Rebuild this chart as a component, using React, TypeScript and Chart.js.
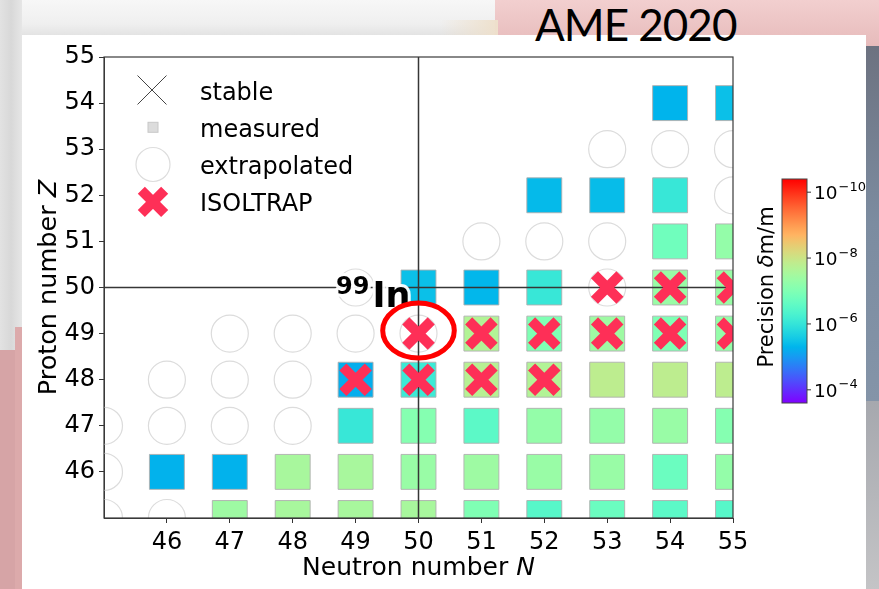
import React, { useEffect, useRef } from 'react';
import { Chart, registerables } from 'chart.js';

Chart.register(...registerables);

// ---------------- data ----------------
const xTickValues = [46, 47, 48, 49, 50, 51, 52, 53, 54, 55];
const yTickValues = [46, 47, 48, 49, 50, 51, 52, 53, 54, 55];
const axisRangeN = [45, 55];
const axisRangeZ = [45, 55];

const colorbarTickValues = [1e-10, 1e-8, 1e-6, 1e-4];
const colorbarTickExponents = ['\u221210', '\u22128', '\u22126', '\u22124'];
const colorbarRange = [Math.pow(10, -10.4), Math.pow(10, -3.6)];

// measured masses (AME 2020) : neutron number, proton number, precision dm/m
const measuredN = [
  54, 55,
  52, 53, 54,
  54, 55,
  50, 51, 52, 54, 55,
  51, 52, 53, 54, 55,
  49, 50, 51, 52, 53, 54, 55,
  49, 50, 51, 52, 53, 54, 55,
  46, 47, 48, 49, 50, 51, 52, 53, 54, 55,
  47, 48, 49, 50, 51, 52, 53, 54, 55,
];
const measuredZ = [
  54, 54,
  52, 52, 52,
  51, 51,
  50, 50, 50, 50, 50,
  49, 49, 49, 49, 49,
  48, 48, 48, 48, 48, 48, 48,
  47, 47, 47, 47, 47, 47, 47,
  46, 46, 46, 46, 46, 46, 46, 46, 46, 46,
  45, 45, 45, 45, 45, 45, 45, 45, 45,
];
const measuredPrecision = [
  5.0e-6, 3.6e-6,
  4.3e-6, 4.0e-6, 8.9e-7,
  1.6e-7, 5.4e-8,
  3.6e-6, 4.7e-6, 8.9e-7, 4.6e-8, 4.6e-8,
  2.1e-8, 1.0e-7, 3.9e-8, 1.0e-7, 5.4e-8,
  5.9e-6, 7.6e-7, 1.8e-8, 2.1e-8, 1.5e-8, 1.5e-8, 1.5e-8,
  8.9e-7, 8.5e-8, 3.0e-7, 5.4e-8, 5.4e-8, 4.6e-8, 8.5e-8,
  5.4e-6, 5.4e-6, 2.9e-8, 2.9e-8, 4.6e-8, 3.9e-8, 4.6e-8, 4.6e-8, 1.9e-7, 5.4e-8,
  3.9e-8, 2.9e-8, 2.9e-8, 2.9e-8, 1.0e-7, 3.5e-7, 1.9e-7, 3.0e-7, 3.5e-7,
];

const extrapolatedN = [53, 54, 55, 55, 51, 52, 53, 49, 53, 47, 48, 49, 50, 46, 47, 48, 45, 46, 47, 48, 45, 45, 46];
const extrapolatedZ = [53, 53, 53, 52, 51, 51, 51, 50, 50, 49, 49, 49, 49, 48, 48, 48, 47, 47, 47, 47, 46, 45, 45];

const isoltrapN = [53, 54, 55, 50, 51, 52, 53, 54, 55, 49, 50, 51, 52];
const isoltrapZ = [50, 50, 50, 49, 49, 49, 49, 49, 49, 48, 48, 48, 48];

const stableN: number[] = [];
const stableZ: number[] = [];

const magicN = 50;
const magicZ = 50;
const highlightN = 50;
const highlightZ = 49;
const highlightLabelMass = '99';
const highlightLabelElement = 'In';

const legendLabels = ['stable', 'measured', 'extrapolated', 'ISOLTRAP'];

// ---------------- helpers ----------------
function rainbow(t: number): string {
  const r = Math.max(0, Math.min(1, Math.abs(2 * t - 0.5)));
  const g = Math.max(0, Math.min(1, Math.sin(Math.PI * t)));
  const b = Math.max(0, Math.min(1, Math.cos((Math.PI * t) / 2)));
  return `rgb(${Math.round(r * 255)},${Math.round(g * 255)},${Math.round(b * 255)})`;
}
const lMin = Math.log10(colorbarRange[0]);
const lMax = Math.log10(colorbarRange[1]);
function precisionT(p: number): number {
  const t = (lMax - Math.log10(p)) / (lMax - lMin);
  return Math.max(0, Math.min(1, t));
}

const FONT = '"DejaVu Sans", sans-serif';
const XCOLOR = '#fe2f57';

function drawCross(ctx: CanvasRenderingContext2D, cx: number, cy: number, r: number, lw: number, color: string) {
  const d = r * Math.SQRT1_2;
  ctx.save();
  ctx.strokeStyle = color;
  ctx.lineWidth = lw;
  ctx.lineCap = 'butt';
  ctx.beginPath();
  ctx.moveTo(cx - d, cy - d);
  ctx.lineTo(cx + d, cy + d);
  ctx.moveTo(cx + d, cy - d);
  ctx.lineTo(cx - d, cy + d);
  ctx.stroke();
  ctx.restore();
}

function drawMixed(ctx: CanvasRenderingContext2D, parts: Array<[string, string]>, centerX: number, y: number) {
  let total = 0;
  const widths = parts.map(([txt, font]) => {
    ctx.font = font;
    const w = ctx.measureText(txt).width;
    total += w;
    return w;
  });
  let x = centerX - total / 2;
  parts.forEach(([txt, font], i) => {
    ctx.font = font;
    ctx.fillText(txt, x, y);
    x += widths[i];
  });
}

const overlayPlugin = {
  id: 'overlay',
  afterDatasetsDraw(chart: any) {
    const { ctx, chartArea: a, scales } = chart;
    const xs = scales.x;
    const ys = scales.y;
    ctx.save();
    // frame (spines)
    ctx.strokeStyle = '#3a3a3a';
    ctx.lineWidth = 1.2;
    ctx.strokeRect(a.left, a.top, a.right - a.left, a.bottom - a.top);

    // 99In label
    const px = xs.getPixelForValue(magicN);
    const py = ys.getPixelForValue(magicZ);
    ctx.lineJoin = 'round';
    ctx.textBaseline = 'alphabetic';
    ctx.textAlign = 'left';
    const bigFont = 'bold 35px "DejaVu Sans", sans-serif';
    const smallFont = 'bold 24px "DejaVu Sans", sans-serif';
    ctx.font = bigFont;
    const inX = px - 46;
    const inY = py + 19;
    ctx.strokeStyle = 'rgba(255,255,255,0.95)';
    ctx.lineWidth = 6;
    ctx.strokeText(highlightLabelElement, inX, inY);
    ctx.font = smallFont;
    const w99 = ctx.measureText(highlightLabelMass).width;
    const mX = inX - 3 - w99;
    const mY = py + 6;
    ctx.strokeText(highlightLabelMass, mX, mY);
    ctx.fillStyle = '#000';
    ctx.fillText(highlightLabelMass, mX, mY);
    ctx.font = bigFont;
    ctx.fillText(highlightLabelElement, inX, inY);

    // red highlight ellipse
    const hx = xs.getPixelForValue(highlightN);
    const hy = ys.getPixelForValue(highlightZ) - 3;
    ctx.beginPath();
    ctx.ellipse(hx, hy, 35.8, 27.5, 0, 0, Math.PI * 2);
    ctx.strokeStyle = '#ff0000';
    ctx.lineWidth = 5;
    ctx.stroke();
    ctx.restore();
  },
  afterDraw(chart: any) {
    const { ctx, chartArea: a } = chart;
    ctx.save();
    // axis titles
    ctx.fillStyle = '#000';
    ctx.textBaseline = 'alphabetic';
    ctx.textAlign = 'left';
    const cx = (a.left + a.right) / 2;
    drawMixed(
      ctx,
      [
        ['Neutron number ', `25px ${FONT}`],
        ['N', `italic 25px ${FONT}`],
      ],
      cx,
      575
    );

    ctx.save();
    ctx.translate(56, (a.top + a.bottom) / 2);
    ctx.rotate(-Math.PI / 2);
    drawMixed(
      ctx,
      [
        ['Proton number ', `25.5px ${FONT}`],
        ['Z', `italic 25.5px ${FONT}`],
      ],
      0,
      0
    );
    ctx.restore();

    // legend
    const lx = 153;
    const rows = [99.5, 136.8, 174, 211.4];
    ctx.font = `24px ${FONT}`;
    ctx.fillStyle = '#000';
    legendLabels.forEach((lab, i) => {
      ctx.fillText(lab, 200, rows[i]);
    });
    drawCross(ctx, lx - 1, rows[0] - 9.5, 20.5, 1, '#444');
    ctx.fillStyle = '#dcdcdc';
    ctx.strokeStyle = '#c8c8c8';
    ctx.lineWidth = 1;
    ctx.fillRect(lx - 5, rows[1] - 14.5, 10, 10);
    ctx.strokeRect(lx - 5, rows[1] - 14.5, 10, 10);
    ctx.beginPath();
    ctx.arc(lx, rows[2] - 9.5, 17, 0, Math.PI * 2);
    ctx.strokeStyle = '#dddddd';
    ctx.lineWidth = 1.2;
    ctx.stroke();
    drawCross(ctx, lx, rows[3] - 9.5, 16.5, 10, XCOLOR);

    // colorbar
    const cbL = 782, cbR = 807, cbT = 179, cbB = 403;
    const grad = ctx.createLinearGradient(0, cbT, 0, cbB);
    const nStops = 40;
    for (let i = 0; i <= nStops; i++) {
      const f = i / nStops;
      grad.addColorStop(f, rainbow(1 - f));
    }
    ctx.fillStyle = grad;
    ctx.fillRect(cbL, cbT, cbR - cbL, cbB - cbT);
    ctx.strokeStyle = '#444';
    ctx.lineWidth = 1;
    ctx.strokeRect(cbL, cbT, cbR - cbL, cbB - cbT);
    colorbarTickValues.forEach((v, i) => {
      const f = (Math.log10(v) - lMin) / (lMax - lMin);
      const ty = cbT + f * (cbB - cbT);
      ctx.beginPath();
      ctx.moveTo(cbR, ty);
      ctx.lineTo(cbR + 4, ty);
      ctx.strokeStyle = '#333';
      ctx.stroke();
      ctx.fillStyle = '#000';
      ctx.font = `18.5px ${FONT}`;
      ctx.textBaseline = 'alphabetic';
      ctx.fillText('10', 814, ty + 7);
      const w10 = ctx.measureText('10').width;
      ctx.font = `13px ${FONT}`;
      ctx.fillText(colorbarTickExponents[i], 814 + w10 + 1, ty - 1.5);
    });
    // colorbar label
    ctx.save();
    ctx.translate(773, (cbT + cbB) / 2 - 4);
    ctx.rotate(-Math.PI / 2);
    ctx.fillStyle = '#000';
    drawMixed(
      ctx,
      [
        ['Precision ', `21px ${FONT}`],
        ['\u03b4', `italic 21px ${FONT}`],
        ['m/m', `21px ${FONT}`],
      ],
      0,
      0
    );
    ctx.restore();

    ctx.restore();
  },
};

export default function App() {
  const canvasRef = useRef<HTMLCanvasElement | null>(null);

  useEffect(() => {
    const canvas = canvasRef.current;
    if (!canvas) return;
    const measuredData = measuredN.map((n, i) => ({ x: n, y: measuredZ[i] }));
    const measuredColors = measuredPrecision.map((p) => rainbow(precisionT(p)));
    const extrapolatedData = extrapolatedN.map((n, i) => ({ x: n, y: extrapolatedZ[i] }));
    const isoltrapData = isoltrapN.map((n, i) => ({ x: n, y: isoltrapZ[i] }));
    const stableData = stableN.map((n, i) => ({ x: n, y: stableZ[i] }));

    const tickFont = { family: FONT, size: 24 };

    const chart = new Chart(canvas, {
      type: 'scatter',
      data: {
        datasets: [
          {
            label: 'stable',
            data: stableData,
            pointStyle: 'crossRot',
            pointRadius: 20,
            borderColor: '#444',
            borderWidth: 1,
            order: 1,
            clip: 0,
          },
          {
            label: 'ISOLTRAP',
            data: isoltrapData,
            pointStyle: 'crossRot',
            pointRadius: 18,
            borderColor: XCOLOR,
            backgroundColor: XCOLOR,
            borderWidth: 10,
            order: 2,
            clip: 0,
          },
          {
            label: 'N=50',
            data: [
              { x: magicN, y: axisRangeZ[0] },
              { x: magicN, y: axisRangeZ[1] },
            ],
            showLine: true,
            pointRadius: 0,
            borderColor: '#363636',
            borderWidth: 1.5,
            order: 3,
            clip: 0,
          },
          {
            label: 'Z=50',
            data: [
              { x: axisRangeN[0], y: magicZ },
              { x: axisRangeN[1], y: magicZ },
            ],
            showLine: true,
            pointRadius: 0,
            borderColor: '#363636',
            borderWidth: 1.5,
            order: 3,
            clip: 0,
          },
          {
            label: 'extrapolated',
            data: extrapolatedData,
            pointStyle: 'circle',
            pointRadius: 18.5,
            backgroundColor: 'rgba(255,255,255,0)',
            borderColor: '#dcdcdc',
            borderWidth: 1.2,
            order: 4,
            clip: 0,
          },
          {
            label: 'measured',
            data: measuredData,
            pointStyle: 'rect',
            pointRadius: 24.7,
            backgroundColor: measuredColors,
            borderColor: 'rgba(175,175,175,0.9)',
            borderWidth: 1,
            order: 5,
            clip: 0,
          },
        ],
      },
      options: {
        responsive: false,
        animation: false,
        events: [],
        layout: { padding: { left: 0, top: 57, right: 146, bottom: 0 } },
        plugins: {
          legend: { display: false },
          tooltip: { enabled: false },
          title: { display: false },
        },
        scales: {
          x: {
            type: 'linear',
            min: axisRangeN[0],
            max: axisRangeN[1],
            afterBuildTicks: (s: any) => {
              s.ticks = xTickValues.map((v) => ({ value: v }));
            },
            afterFit: (s: any) => {
              s.height = 71;
            },
            ticks: {
              font: tickFont,
              color: '#000',
              padding: 5,
              maxRotation: 0,
              autoSkip: false,
              callback: (v: any) => String(v),
            },
            grid: {
              drawOnChartArea: false,
              drawTicks: true,
              tickLength: 5,
              color: '#333',
            },
            border: { display: true, color: '#3a3a3a', width: 1 },
          },
          y: {
            type: 'linear',
            min: axisRangeZ[0],
            max: axisRangeZ[1],
            afterBuildTicks: (s: any) => {
              s.ticks = yTickValues.map((v) => ({ value: v }));
            },
            afterFit: (s: any) => {
              s.width = 104;
            },
            ticks: {
              font: tickFont,
              color: '#000',
              padding: 4,
              autoSkip: false,
              callback: (v: any) => String(v),
            },
            grid: {
              drawOnChartArea: false,
              drawTicks: true,
              tickLength: 5,
              color: '#333',
            },
            border: { display: true, color: '#3a3a3a', width: 1 },
          },
        },
      },
      plugins: [overlayPlugin],
    } as any);

    return () => {
      chart.destroy();
    };
  }, []);

  return (
    <div
      style={{
        position: 'fixed',
        left: 0,
        top: 0,
        width: 879,
        height: 589,
        overflow: 'hidden',
        background: '#e4e4e4',
      }}
    >
      <div style={{ position: 'absolute', left: 0, top: 0, width: 879, height: 40, background: 'linear-gradient(to bottom, #f7f7f7 0%, #efefef 60%, #dedede 100%)' }} />
      <div style={{ position: 'absolute', left: 495, top: 0, width: 384, height: 48, background: 'linear-gradient(to bottom, #f2cfcf, #e6baba)' }} />
      <div style={{ position: 'absolute', left: 440, top: 20, width: 58, height: 16, background: 'linear-gradient(to right, rgba(235,225,205,0), #eee0cc)' }} />
      <div style={{ position: 'absolute', left: 0, top: 0, width: 22, height: 589, background: 'linear-gradient(to right, #e2e2e2, #d8d8d8 50%, #e6e6e6)' }} />
      <div style={{ position: 'absolute', left: 0, top: 350, width: 15, height: 239, background: '#d6a4a6' }} />
      <div style={{ position: 'absolute', left: 15, top: 327, width: 7, height: 262, background: '#dcaaab' }} />
      <div style={{ position: 'absolute', left: 866, top: 46, width: 13, height: 355, background: 'linear-gradient(to bottom, #6d7280, #7c8ca0 50%, #8494a8)' }} />
      <div style={{ position: 'absolute', left: 866, top: 401, width: 13, height: 188, background: 'linear-gradient(to bottom, #a6a8ae, #c4c4c6)' }} />
      <div style={{ position: 'absolute', left: 22, top: 35, width: 844, height: 554, background: '#ffffff' }} />
      <div
        style={{
          position: 'absolute',
          left: 535,
          top: 0,
          height: 48,
          lineHeight: '48px',
          fontFamily: 'Lato, "Open Sans", sans-serif',
          fontWeight: 400,
          fontSize: 44,
          color: '#000',
          whiteSpace: 'nowrap',
          letterSpacing: -1,
        }}
      >
        AME 2020
      </div>
      <canvas
        ref={canvasRef}
        width={879}
        height={589}
        style={{ position: 'absolute', left: 0, top: 0, width: 879, height: 589 }}
      />
    </div>
  );
}
